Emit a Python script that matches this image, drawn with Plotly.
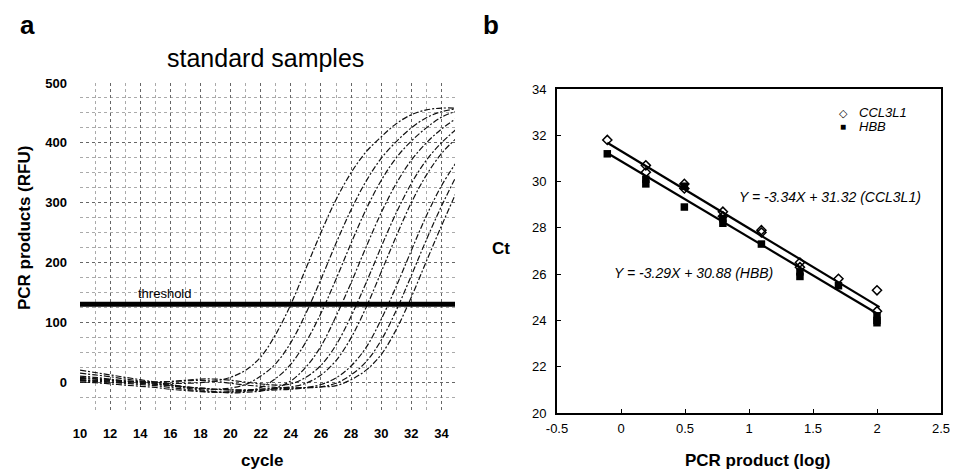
import plotly.graph_objects as go

# panel a: amplification curves of the standard samples (RFU per cycle)
cycles = list(range(10, 36))

curve_a = [6, 5, 3, 1, 0, -1, -2, -2, -1, 2, 8, 20, 42, 80, 130, 190, 250, 305, 350, 385, 410, 432, 447, 455, 458, 458]
curve_b = [20, 16, 12, 8, 4, 0, -4, -8, -11, -12, -10, -4, 10, 31, 66, 115, 172, 232, 288, 336, 374, 402, 425, 442, 452, 457]
curve_c = [3, 2, 0, -2, -4, -6, -9, -12, -15, -17, -17, -15, -9, 6, 30, 67, 115, 172, 232, 289, 337, 375, 403, 425, 443, 453]
curve_d = [15, 12, 9, 5, 2, -2, -6, -10, -13, -16, -18, -17, -15, -10, 2, 25, 60, 110, 166, 226, 283, 332, 371, 400, 423, 441]
curve_e = [8, 6, 4, 2, 1, 0, 1, 3, 5, 5, 3, 0, -3, -5, -3, 8, 28, 62, 110, 166, 226, 283, 332, 371, 400, 423]
curve_f = [0, -1, -3, -5, -7, -9, -12, -14, -16, -17, -16, -14, -12, -10, -8, -2, 12, 36, 74, 125, 184, 244, 300, 346, 382, 408]
curve_g = [4, 3, 2, 1, 0, 0, 1, 2, 3, 1, -2, -5, -7, -9, -10, -9, -4, 7, 27, 58, 105, 160, 220, 278, 328, 368]
curve_h = [10, 8, 5, 2, 0, -3, -5, -8, -10, -12, -13, -14, -14, -13, -12, -10, -8, -2, 12, 34, 70, 120, 178, 238, 294, 345]
curve_i = [2, 1, 0, -1, -2, -4, -6, -8, -10, -12, -13, -13, -12, -11, -10, -9, -8, -6, 4, 20, 46, 88, 142, 202, 261, 318]
curves = [curve_a, curve_b, curve_c, curve_d, curve_e, curve_f, curve_g, curve_h, curve_i]

threshold = 130

# panel b: Ct vs log PCR product
ccl_x = [-0.107, 0.194, 0.194, 0.495, 0.495, 0.796, 0.796, 1.097, 1.097, 1.398, 1.398, 1.699, 2.0, 2.0]
ccl_y = [31.8, 30.7, 30.4, 29.9, 29.7, 28.7, 28.5, 27.9, 27.8, 26.5, 26.3, 25.8, 25.3, 24.4]
hbb_x = [-0.107, 0.194, 0.194, 0.495, 0.495, 0.796, 0.796, 1.097, 1.398, 1.398, 1.699, 2.0, 2.0, 2.0]
hbb_y = [31.2, 30.1, 29.9, 29.8, 28.9, 28.4, 28.2, 27.3, 26.1, 25.9, 25.5, 24.2, 24.0, 23.9]

fit_slopes = [-3.34, -3.29]
fit_intercepts = [31.32, 30.88]
fit_x = [-0.107, 2.02]

W, H = 955, 469
FONT = "Liberation Sans"


def px(x):
    return x / W


def py(y):
    return 1 - y / H


fig = go.Figure()

# amplification curves
for c in curves:
    fig.add_trace(go.Scatter(
        x=cycles, y=c, mode='lines', line=dict(color='#111', width=1.2, dash='6px,2px,2px,2px'),
        line_shape='spline', showlegend=False, hoverinfo='skip',
        xaxis='x', yaxis='y'
    ))

fig.add_trace(go.Scatter(
    x=[10, 35], y=[threshold, threshold], mode='lines',
    line=dict(color='black', width=5), showlegend=False, xaxis='x', yaxis='y'
))

# regression lines
for s, b in zip(fit_slopes, fit_intercepts):
    fig.add_trace(go.Scatter(
        x=fit_x, y=[s * v + b for v in fit_x], mode='lines',
        line=dict(color='black', width=2.2), showlegend=False, xaxis='x2', yaxis='y2'
    ))

fig.add_trace(go.Scatter(
    x=hbb_x, y=hbb_y, mode='markers', name='HBB', showlegend=False,
    marker=dict(symbol='square', size=7.5, color='black'),
    xaxis='x2', yaxis='y2'
))
fig.add_trace(go.Scatter(
    x=ccl_x, y=ccl_y, mode='markers', name='CCL3L1', showlegend=False,
    marker=dict(symbol='diamond-open', size=7, color='black', line=dict(width=1.5)),
    xaxis='x2', yaxis='y2'
))

tick_font = dict(family=FONT, size=13, color='black', weight='bold')

fig.update_layout(
    width=W, height=H,
    margin=dict(l=0, r=0, t=0, b=0),
    paper_bgcolor='white', plot_bgcolor='white',
    font=dict(family=FONT, color='black'),
    showlegend=False,
    xaxis=dict(
        domain=[px(80), px(455)], range=[10, 34.9], anchor='y', automargin=False,
        tickvals=list(range(10, 35, 2)), tickfont=tick_font, ticks='',
        ticklabelstandoff=12,
        showgrid=True, gridcolor='#666', griddash='dot', gridwidth=1,
        minor=dict(dtick=1, showgrid=True, gridcolor='#aaa', griddash='dot'),
        zeroline=False, showline=False,
    ),
    yaxis=dict(
        domain=[py(412), py(83)], range=[-50, 500], anchor='x', automargin=False,
        tickvals=[0, 100, 200, 300, 400, 500], tickfont=tick_font, ticks='',
        ticklabelstandoff=12,
        showgrid=True, gridcolor='#666', griddash='dot', gridwidth=1,
        minor=dict(dtick=25, showgrid=True, gridcolor='#aaa', griddash='dot'),
        zeroline=False, showline=False,
    ),
    xaxis2=dict(
        domain=[px(557), px(941)], range=[-0.5, 2.5], anchor='y2', automargin=False,
        tickvals=[-0.5, 0, 0.5, 1, 1.5, 2, 2.5], ticktext=['-0.5', '0', '0.5', '1', '1.5', '2', '2.5'],
        tickfont=dict(family=FONT, size=13, color='black'),
        ticks='inside', ticklen=4, tickcolor='black', ticklabelstandoff=2,
        showgrid=False, zeroline=False,
        showline=True, linecolor='black', linewidth=2, mirror=True,
    ),
    yaxis2=dict(
        domain=[py(413), py(89)], range=[20, 34], anchor='x2', automargin=False,
        tickvals=[20, 22, 24, 26, 28, 30, 32, 34],
        tickfont=dict(family=FONT, size=13, color='black'),
        ticks='inside', ticklen=4, tickcolor='black', ticklabelstandoff=6,
        showgrid=False, zeroline=False,
        showline=True, linecolor='black', linewidth=2, mirror=True,
    ),
)

annotations = [
    dict(x=px(27), y=py(25), text='<b>a</b>', font=dict(size=26)),
    dict(x=px(491), y=py(25), text='<b>b</b>', font=dict(size=26)),
    dict(x=px(265), y=py(58), text='standard samples', font=dict(size=25)),
    dict(x=px(24), y=py(228), text='<b>PCR products (RFU)</b>', font=dict(size=17), textangle=-90),
    dict(x=px(262), y=py(460), text='<b>cycle</b>', font=dict(size=17)),
    dict(x=px(164), y=py(293), text='threshold', font=dict(size=13)),
    dict(x=px(501), y=py(249), text='<b>Ct</b>', font=dict(size=17)),
    dict(x=px(757), y=py(460), text='<b>PCR product (log)</b>', font=dict(size=17)),
    dict(x=px(830), y=py(197), text='<i>Y = -3.34X + 31.32 (CCL3L1)</i>', font=dict(size=14)),
    dict(x=px(693), y=py(273), text='<i>Y = -3.29X + 30.88 (HBB)</i>', font=dict(size=14)),
    # legend
    dict(x=px(843), y=py(113), text='◇', font=dict(size=11)),
    dict(x=px(843), y=py(126), text='■', font=dict(size=10)),
    dict(x=px(857), y=py(113), text='<i>CCL3L1</i>', font=dict(size=13), xanchor='left'),
    dict(x=px(857), y=py(126), text='<i>HBB</i>', font=dict(size=13), xanchor='left'),
]
for a in annotations:
    a.setdefault('xanchor', 'center')
    a.update(xref='paper', yref='paper', showarrow=False, yanchor='middle')
    a['font'] = dict(family=FONT, color='black', **a['font'])
fig.update_layout(annotations=annotations)

# drop the default body margin so the figure fills the window
fig.write_html("out.html", config={'displayModeBar': False},
               post_script="document.body.style.margin='0';")
